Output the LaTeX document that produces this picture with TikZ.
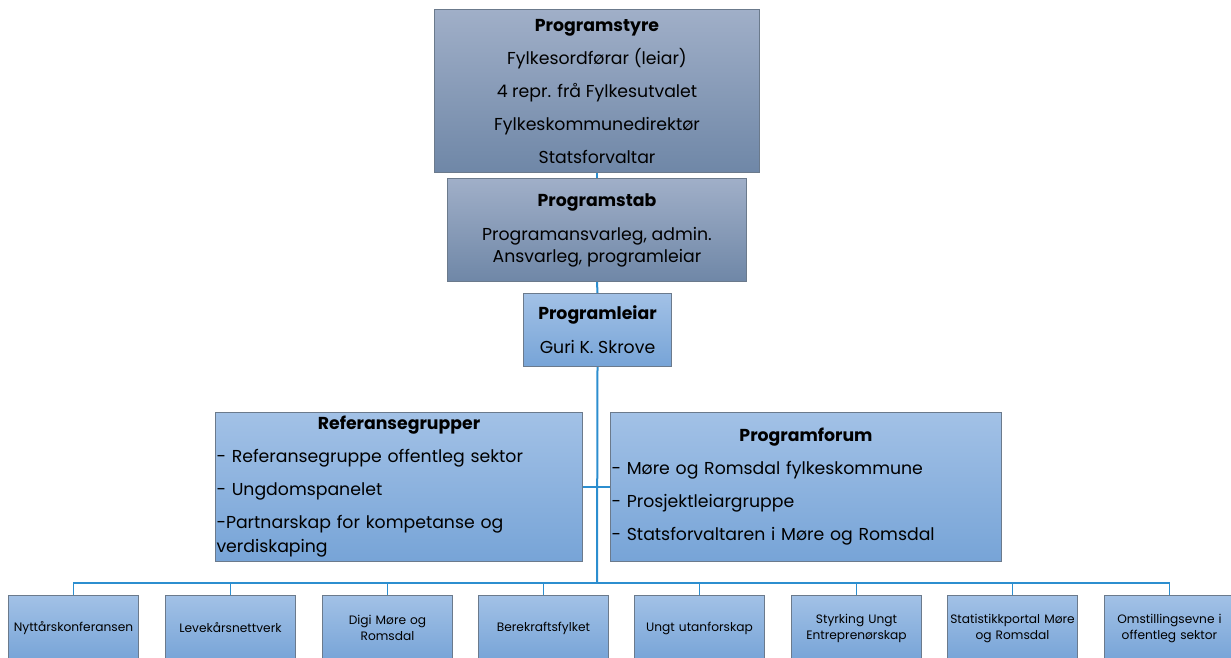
\documentclass[tikz,border=0pt]{standalone}
\usepackage{fontspec}
\setmainfont{Poppins}
\definecolor{gAtop}{HTML}{A0AFC8}
\definecolor{gAbot}{HTML}{6F87A7}
\definecolor{gBtop}{HTML}{A2C1E6}
\definecolor{gBbot}{HTML}{77A4D7}
\definecolor{bord}{HTML}{6B7A8C}
\definecolor{conn}{HTML}{2C8ECF}
\tikzset{
  boxA/.style={draw=bord, line width=1pt, top color=gAtop, bottom color=gAbot, inner sep=0pt, anchor=north west, text=black},
  boxB/.style={draw=bord, line width=1pt, top color=gBtop, bottom color=gBbot, inner sep=0pt, anchor=north west, text=black},
  mainline/.style={draw=conn, line width=2pt},
  busline/.style={draw=conn, line width=1.5pt},
  small/.style={boxB, minimum width=130pt, minimum height=65pt, text width=128pt, align=center, font=\fontsize{12.2}{16}\selectfont},
}
\begin{document}
\begin{tikzpicture}[x=1pt,y=-1pt]
\useasboundingbox (0,0) rectangle (1231,657);
\clip (0,0) rectangle (1231,657);
% top boxes
\node[boxA, minimum width=325pt, minimum height=163pt, align=center, font=\fontsize{17.3}{33}\selectfont] (styre) at (434,9)
  {{\bfseries Programstyre}\\Fylkesordførar (leiar)\\4 repr. frå Fylkesutvalet\\Fylkeskommunedirektør\\Statsforvaltar};
\node[boxA, minimum width=299pt, minimum height=103pt, align=center, font=\fontsize{17.3}{22}\selectfont] (stab) at (447,178)
  {{\bfseries Programstab}\\[12pt]Programansvarleg, admin.\\Ansvarleg, programleiar};
\node[boxB, minimum width=148pt, minimum height=73pt, align=center, font=\fontsize{17.3}{34}\selectfont] (leiar) at (523,293)
  {{\bfseries Programleiar}\\Guri K. Skrove};
% middle boxes
\node[boxB, minimum width=367pt, minimum height=149pt, text width=365pt, inner xsep=1pt, font=\fontsize{17.3}{24}\selectfont] (ref) at (215,412)
  {\parskip=9pt {\centering\bfseries Referansegrupper\par}\raggedright
   - Referansegruppe offentleg sektor\par
   - Ungdomspanelet\par
   -Partnarskap for kompetanse og\\verdiskaping\par};
\node[boxB, minimum width=391pt, minimum height=149pt, text width=389pt, inner xsep=1pt, font=\fontsize{17.3}{24}\selectfont] (forum) at (610,412)
  {\parskip=9pt {\centering\bfseries Programforum\par}\raggedright
   - Møre og Romsdal fylkeskommune\par
   - Prosjektleiargruppe\par
   - Statsforvaltaren i Møre og Romsdal\par};
% bottom boxes
\node[small] (b1) at (8,595) {Nyttårskonferansen};
\node[small] (b2) at (165,595) {Levekårsnettverk};
\node[small] (b3) at (322,595) {Digi Møre og\\Romsdal};
\node[small] (b4) at (478,595) {Berekraftsfylket};
\node[small] (b5) at (634,595) {Ungt utanforskap};
\node[small] (b6) at (791,595) {Styrking Ungt\\Entreprenørskap};
\node[small] (b7) at (947,595) {Statistikkportal Møre\\og Romsdal};
\node[small] (b8) at (1104,595) {Omstillingsevne i\\offentleg sektor};
% connectors
\coordinate (bus) at (597,583);
\draw[mainline] (styre.south) -- (stab.north);
\draw[mainline] (stab.south) -- (leiar.north);
\draw[mainline] (leiar.south) -- (bus);
\draw[busline] (ref.east) -- (forum.west);
\draw[busline] (b1.north) -- (b1.north |- bus) -- (b8.north |- bus) -- (b8.north);
\foreach \b in {b2,b3,b4,b5,b6,b7} \draw[busline] (\b.north) -- (\b.north |- bus);
\end{tikzpicture}
\end{document}
